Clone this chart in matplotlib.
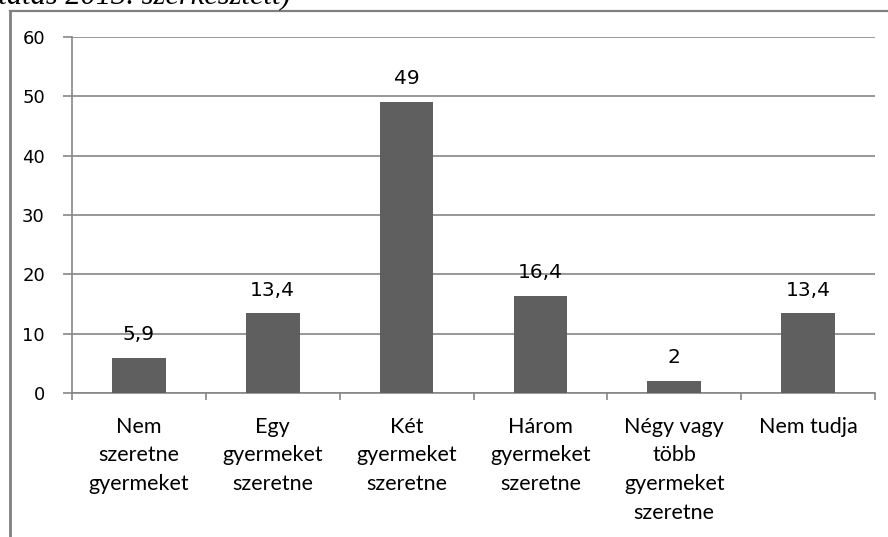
import matplotlib
matplotlib.use("Agg")
import matplotlib.pyplot as plt
import numpy as np
from matplotlib.lines import Line2D

categories = ["Nem\nszeretne\ngyermeket", "Egy\ngyermeket\nszeretne", "Két\ngyermeket\nszeretne",
              "Három\ngyermeket\nszeretne", "Négy vagy\ntöbb\ngyermeket\nszeretne", "Nem tudja"]
values = [5.9, 13.4, 49, 16.4, 2, 13.4]
yticks = [0, 10, 20, 30, 40, 50, 60]

W, H = 888, 537
fig = plt.figure(figsize=(W / 100, H / 100), dpi=100)
ax = fig.add_axes([72 / W, (H - 393) / H, (875 - 72) / W, (393 - 37) / H])

grid_c = "#868686"
bar_c = "#5f5f5f"

x = np.arange(len(categories))
ax.bar(x, values, width=0.4, color=bar_c, zorder=3)
ax.set_xlim(-0.5, len(categories) - 0.5)
ax.set_ylim(0, 60)
ax.set_yticks(yticks)
ax.set_yticklabels([str(t) for t in yticks], fontfamily="DejaVu Sans", fontsize=13)
ax.yaxis.grid(True, color=grid_c, linewidth=1.2, zorder=0)
ax.set_axisbelow(True)

ax.set_xticks(x)
ax.set_xticklabels(categories, fontfamily="Lato", fontsize=15.5, linespacing=1.55, va="top")
ax.tick_params(axis="x", which="major", length=0, pad=17)
ax.set_xticks(np.arange(-0.5, len(categories), 1), minor=True)
ax.tick_params(axis="x", which="minor", length=5, color=grid_c, width=1.2)
ax.tick_params(axis="y", length=6.5, color=grid_c, width=1.2, pad=13)

for s in ["top", "right"]:
    ax.spines[s].set_visible(False)
for s in ["left", "bottom"]:
    ax.spines[s].set_color(grid_c)
    ax.spines[s].set_linewidth(1.2)

for xi, v in zip(x, values):
    lbl = f"{v:g}".replace(".", ",")
    ax.annotate(lbl, (xi, v), xytext=(0, 10), textcoords="offset points",
                ha="center", va="bottom", fontfamily="DejaVu Sans", fontsize=14.5)

# frame lines
fig.add_artist(Line2D([9.5 / W, 9.5 / W], [0, 1 - 10.5 / H], transform=fig.transFigure,
                      color="#808080", linewidth=2))
fig.add_artist(Line2D([9.5 / W, 1], [1 - 10.5 / H, 1 - 10.5 / H], transform=fig.transFigure,
                      color="#808080", linewidth=1.6))

fig.text(291 / W, 1 - 4 / H, "(Forrás: saját kutatás 2013. szerkesztett)", ha="right", va="baseline",
         fontfamily="Liberation Serif", style="italic", fontsize=22)

fig.savefig("out.png", dpi=100)
